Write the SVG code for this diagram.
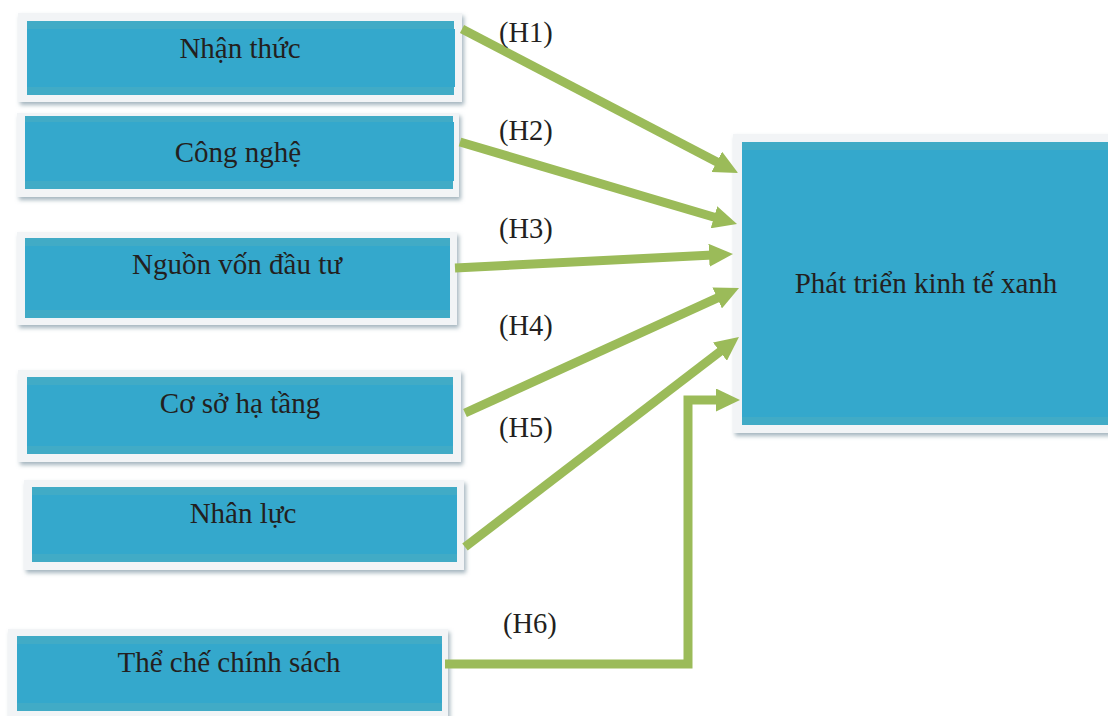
<svg xmlns="http://www.w3.org/2000/svg" width="1108" height="716" viewBox="0 0 1108 716">
<style>
.frame{fill:#f2f4f6;filter:url(#sh)}
.blue{fill:#34a8cc}
.band{fill:#41abc6}
.t{font-family:"Liberation Serif","Times New Roman",serif;font-size:29px;fill:#231f20}
.l{font-size:28.5px}
.c{text-anchor:middle}
.conn{stroke:#9bbb59;stroke-width:9;fill:none;marker-end:url(#ah)}
</style>
<defs>
<filter id="sh" x="-5%" y="-10%" width="112%" height="130%">
<feDropShadow dx="2" dy="3" stdDeviation="2" flood-color="#7d95a3" flood-opacity="0.7"/>
</filter>
<marker id="ah" markerUnits="userSpaceOnUse" markerWidth="24" markerHeight="23" refX="4" refY="11.5" orient="auto" viewBox="0 0 24 23">
<path d="M0,0 L24,11.5 L0,23 z" fill="#9bbb59"/>
</marker>
</defs>
<rect width="1108" height="716" fill="#ffffff"/>

<g id="n1">
<rect class="frame" x="18" y="13" width="444" height="89"/>
<rect class="band" x="27" y="21" width="427" height="74"/>
<rect class="blue" x="27" y="29" width="428" height="58"/>
<text class="t c" x="240" y="58">Nhận thức</text>
</g>
<g id="n2">
<rect class="frame" x="17" y="113" width="442" height="84"/>
<rect class="band" x="25" y="116" width="428" height="73"/>
<rect class="blue" x="25" y="122" width="429" height="59"/>
<text class="t c" x="238" y="162">Công nghệ</text>
</g>
<g id="n3">
<rect class="frame" x="17" y="232" width="440" height="93"/>
<rect class="band" x="25" y="238" width="425" height="80"/>
<rect class="blue" x="25" y="246" width="425" height="64"/>
<text class="t c" x="237" y="274">Nguồn vốn đầu tư</text>
</g>
<g id="n4">
<rect class="frame" x="18" y="370" width="443" height="92"/>
<rect class="band" x="27" y="377" width="426" height="77"/>
<rect class="blue" x="27" y="385" width="426" height="61"/>
<text class="t c" x="240" y="413">Cơ sở hạ tầng</text>
</g>
<g id="n5">
<rect class="frame" x="24" y="480" width="440" height="90"/>
<rect class="band" x="32" y="487" width="425" height="75"/>
<rect class="blue" x="32" y="495" width="425" height="59"/>
<text class="t c" x="243" y="523">Nhân lực</text>
</g>
<g id="n6">
<rect class="frame" x="8" y="629" width="440" height="95"/>
<rect class="band" x="17" y="636" width="425" height="75"/>
<rect class="blue" x="17" y="644" width="425" height="59"/>
<text class="t c" x="229" y="672">Thể chế chính sách</text>
</g>
<g id="n7">
<rect class="frame" x="733" y="134" width="390" height="299"/>
<rect class="band" x="742" y="142" width="380" height="283"/>
<rect class="blue" x="742" y="150" width="380" height="267"/>
<text class="t c" x="926" y="293">Phát triển kinh tế xanh</text>
</g>

<g id="connectors">
<line class="conn" x1="462" y1="29" x2="720.3" y2="163.7"/>
<line class="conn" x1="460" y1="142" x2="717.8" y2="218.3"/>
<line class="conn" x1="455" y1="268" x2="713" y2="255"/>
<line class="conn" x1="465" y1="413" x2="720.8" y2="296.3"/>
<line class="conn" x1="465" y1="547" x2="723.1" y2="349.2"/>
<path class="conn" d="M445,664 H688 V400 H720"/>
</g>

<g id="labels">
<text class="t l" x="499" y="42">(H1)</text>
<text class="t l" x="499" y="140">(H2)</text>
<text class="t l" x="499" y="238">(H3)</text>
<text class="t l" x="499" y="335">(H4)</text>
<text class="t l" x="499" y="437">(H5)</text>
<text class="t l" x="503" y="633">(H6)</text>
</g>
</svg>
